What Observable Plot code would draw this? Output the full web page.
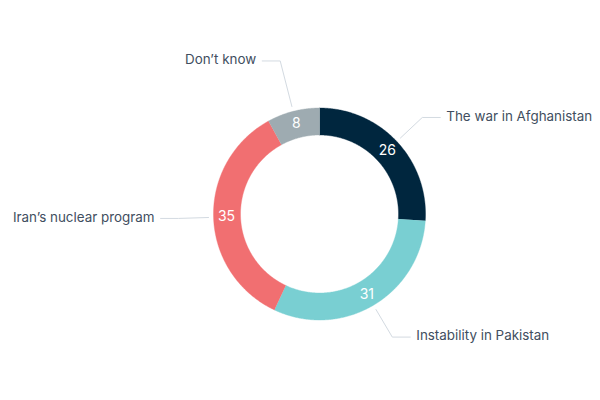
<!DOCTYPE html>
<html><head><meta charset="utf-8">
<script src="https://cdn.jsdelivr.net/npm/d3@7"></script>
<script src="https://cdn.jsdelivr.net/npm/@observablehq/plot@0.6"></script>
<style>body{margin:0;background:#fff}</style>
</head><body><div id="chart"></div>
<script>
// Data
const categories = ["The war in Afghanistan", "Instability in Pakistan", "Iran’s nuclear program", "Don’t know"];
const values = [26, 31, 35, 8];
const colors = ["#00263e", "#79cfd2", "#f16f71", "#9eabb1"];

// Layout (pixels)
const W = 600, H = 400;
const layout = {cx: 319, cy: 213.5, outer: 106, inner: 79, valueR: 93, leadStart: 111,
  elbow: {"Don’t know": 158, "Instability in Pakistan": 143}, elbowDefault: 141, seg: 18, gap: 6};

const total = d3.sum(values);
const slices = [];
let cum = 0;
values.forEach((v, i) => {
  const a0 = 2 * Math.PI * cum / total;
  cum += v;
  const a1 = 2 * Math.PI * cum / total;
  slices.push({cat: categories[i], value: v, a0, a1, mid: (a0 + a1) / 2});
});
const pt = (r, a) => [r * Math.sin(a), -r * Math.cos(a)];

// slice polygons
const polyRows = [];
for (const s of slices) {
  const n = Math.max(8, Math.ceil((s.a1 - s.a0) / (Math.PI / 360)));
  for (let k = 0; k <= n; k++) {
    const a = s.a0 + (s.a1 - s.a0) * k / n;
    const [x, y] = pt(layout.outer, a);
    polyRows.push({cat: s.cat, x, y});
  }
  for (let k = n; k >= 0; k--) {
    const a = s.a0 + (s.a1 - s.a0) * k / n;
    const [x, y] = pt(layout.inner, a);
    polyRows.push({cat: s.cat, x, y});
  }
}

// value labels
const valueRows = slices.map(s => {
  const [x, y] = pt(layout.valueR, s.mid);
  return {x, y, text: String(s.value)};
});

// leader lines and category labels
const leadRows = [], labelRows = [];
for (const s of slices) {
  const er = layout.elbow[s.cat] ?? layout.elbowDefault;
  const side = Math.sin(s.mid) >= 0 ? 1 : -1;
  const [x0, y0] = pt(layout.leadStart, s.mid);
  const [x1, y1] = pt(er, s.mid);
  const x2 = x1 + side * layout.seg;
  leadRows.push({cat: s.cat, x: x0, y: y0}, {cat: s.cat, x: x1, y: y1}, {cat: s.cat, x: x2, y: y1});
  labelRows.push({cat: s.cat, side, x: x2 + side * layout.gap, y: y1 - 1});
}

const chart = Plot.plot({
  width: W, height: H, margin: 0,
  style: {fontFamily: "Inter, 'Noto Sans', sans-serif", background: "#fff"},
  x: {domain: [-layout.cx, W - layout.cx], range: [0, W], axis: null},
  y: {domain: [-layout.cy, H - layout.cy], range: [0, H], axis: null},
  color: {domain: categories, range: colors},
  marks: [
    Plot.line(leadRows, {x: "x", y: "y", z: "cat", stroke: "#d3dae1", strokeWidth: 1}),
    Plot.line(polyRows, {x: "x", y: "y", z: "cat", fill: "cat", stroke: "cat", strokeWidth: 0.4}),
    Plot.text(valueRows, {x: "x", y: "y", text: "text", fill: "white", fontSize: 14}),
    Plot.text(labelRows.filter(d => d.side > 0), {x: "x", y: "y", text: "cat", textAnchor: "start", fill: "#414e60", fontSize: 13.4}),
    Plot.text(labelRows.filter(d => d.side < 0), {x: "x", y: "y", text: "cat", textAnchor: "end", fill: "#414e60", fontSize: 13.4})
  ]
});
document.getElementById("chart").append(chart);
</script>
</body></html>
